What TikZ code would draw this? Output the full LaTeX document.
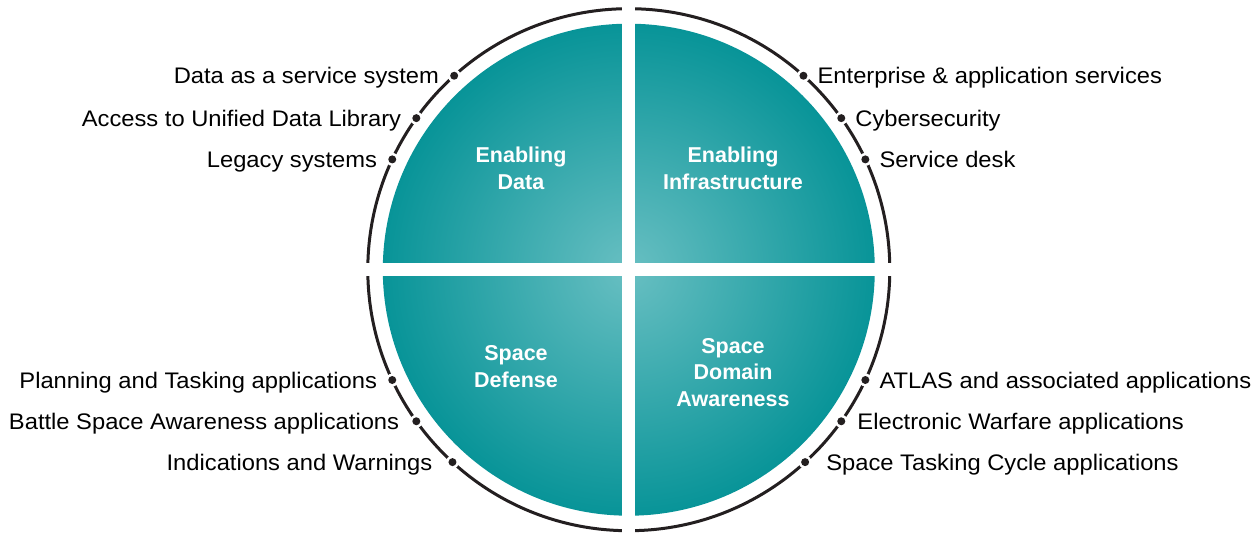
\documentclass[tikz,border=0pt]{standalone}
\usepackage{fontspec}
\setmainfont{Liberation Sans}
\newfontfamily\lblfont[FakeStretch=1.055]{Liberation Sans}
\usetikzlibrary{calc}
\definecolor{tealdark}{RGB}{8,148,152}
\definecolor{teallight}{RGB}{104,191,194}
\definecolor{ringcol}{RGB}{35,31,32}
\tikzset{
  lbl/.style={inner sep=0pt, font=\lblfont\fontsize{22.5}{26}\selectfont, text=black},
  lblL/.style={lbl, anchor=base east},
  lblR/.style={lbl, anchor=base west},
  quad/.style={align=center, inner sep=0pt, text=white, font=\bfseries\fontsize{21.5}{26.5}\selectfont},
  dotw/.style={fill=white},
  dotb/.style={fill=ringcol}
}
\begin{document}
\begin{tikzpicture}[x=1pt,y=-1pt]
\useasboundingbox (0,0) rectangle (1260,534);
\coordinate (C) at (628.8,269.7);
% teal disc
\shade[inner color=teallight, outer color=tealdark] (C) circle (246pt);
% ring
\draw[ringcol, line width=3pt] (C) circle (261pt);
% cross gaps
\fill[white] (622.3,0) rectangle (635.3,534);
\fill[white] (300,263.2) rectangle (960,276.2);
% dots
\foreach \a/\n in {48/r1,35.5/r2,25/r3,132/l1,144.5/l2,155/l3,205/l4,215.5/l5,227.5/l6,335/r4,324.5/r5,312.5/r6}{
  \coordinate (d\n) at ($(C)+(\a:261pt)$);
  \fill[dotw] (d\n) circle (6.5pt);
  \fill[dotb] (d\n) circle (4pt);
}
% labels
\node[lblL] (tl1) at ([xshift=-15pt,yshift=-8pt]dl1) {Data as a service system};
\node[lblL] (tl2) at ([xshift=-15pt,yshift=-8pt]dl2) {Access to Unified Data Library};
\node[lblL] (tl3) at ([xshift=-15pt,yshift=-8pt]dl3) {Legacy systems};
\node[lblL] (tl4) at ([xshift=-15pt,yshift=-8pt]dl4) {Planning and Tasking applications};
\node[lblL] (tl5) at ([xshift=-17pt,yshift=-8pt]dl5) {Battle Space Awareness applications};
\node[lblL] (tl6) at ([xshift=-20pt,yshift=-8pt]dl6) {Indications and Warnings};
\node[lblR] (tr1) at ([xshift=14pt,yshift=-8pt]dr1) {Enterprise \& application services};
\node[lblR] (tr2) at ([xshift=14pt,yshift=-8pt]dr2) {Cybersecurity};
\node[lblR] (tr3) at ([xshift=14pt,yshift=-8pt]dr3) {Service desk};
\node[lblR] (tr4) at ([xshift=14pt,yshift=-8pt]dr4) {ATLAS and associated applications};
\node[lblR] (tr5) at ([xshift=16pt,yshift=-8pt]dr5) {Electronic Warfare applications};
\node[lblR] (tr6) at ([xshift=21pt,yshift=-8pt]dr6) {Space Tasking Cycle applications};
% quadrant titles
\node[quad] (qa) at (521,168.5) {Enabling\\Data};
\node[quad] (qb) at (733,168.5) {Enabling\\Infrastructure};
\node[quad] (qc) at (516,366.5) {Space\\Defense};
\node[quad] (qd) at (733,372.5) {Space\\Domain\\Awareness};
\end{tikzpicture}
\end{document}
